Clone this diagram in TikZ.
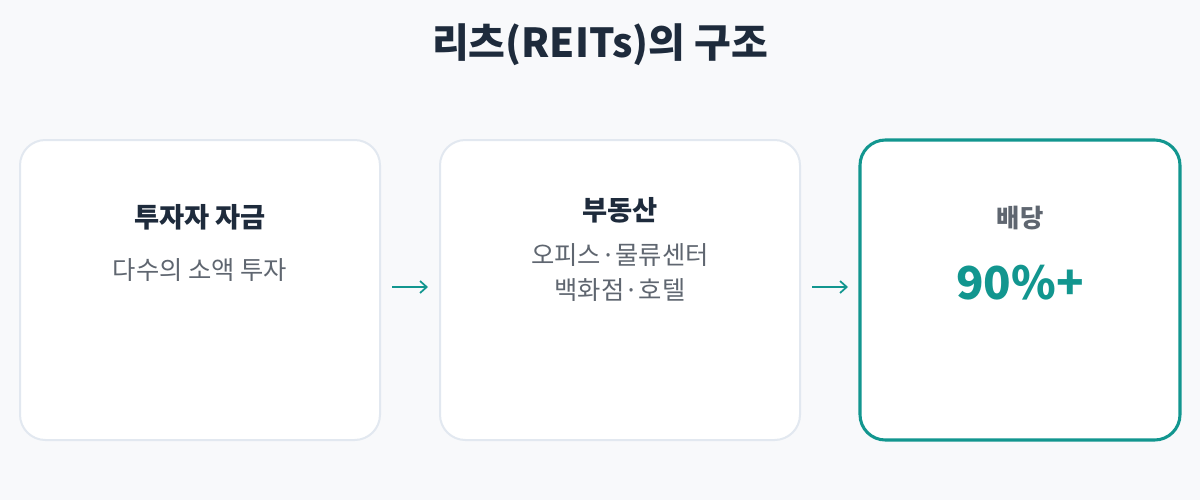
\documentclass[tikz,border=0pt]{standalone}
\usepackage{fontspec}
\setmainfont{Noto Sans CJK KR}
\usetikzlibrary{arrows.meta}
\definecolor{navy}{HTML}{1E2B3C}
\definecolor{teal}{HTML}{12968F}
\definecolor{edge}{HTML}{E2E8F0}
\definecolor{subgray}{HTML}{5F6670}
\definecolor{bg}{HTML}{F8F9FB}

\begin{document}
\begin{tikzpicture}[x=0.75pt,y=-0.75pt,
  every node/.append style={inner sep=0pt},
  box/.style={draw=edge,line width=1.5pt,fill=white,rounded corners=19pt},
  hot/.style={draw=teal,line width=2.3pt,fill=white,rounded corners=19pt},
  head/.style={font=\bfseries\fontsize{20.5}{24}\selectfont,color=navy},
  sub/.style={font=\fontsize{19}{23}\selectfont,color=subgray},
  link/.style={-{Straight Barb[length=5pt,width=9pt]},teal,line width=1.3pt}]
  \fill[bg] (0,0) rectangle (1200,500);
  \node (title) [font=\bfseries\fontsize{30}{34}\selectfont,color=navy] at (600,45) {리츠(REITs)의 구조};
  % boxes
  \draw[box] (20,140) rectangle (380,440);
  \draw[box] (440,140) rectangle (800,440);
  \draw[hot] (860,140) rectangle (1180,440);
  % texts
  \node (fund) [head] at (200,217) {투자자 자금};
  \node (fundsub) [sub] at (200,270) {다수의 소액 투자};
  \node (estate) [head] at (620,210) {부동산};
  \node (estate1) [sub] at (620,255) {오피스·물류센터};
  \node (estate2) [sub] at (620,290) {백화점·호텔};
  \node (div) [font=\bfseries\fontsize{19}{23}\selectfont,color=subgray] at (1020,218) {배당};
  \node (rate) [font=\bfseries\fontsize{34}{40}\selectfont,color=teal] at (1020,283) {90\%+};
  % arrows
  \coordinate (a1) at (392,287);
  \coordinate (b1) at (428,287);
  \coordinate (a2) at (812,287);
  \coordinate (b2) at (848,287);
  \draw[link] (a1) -- (b1);
  \draw[link] (a2) -- (b2);
\end{tikzpicture}
\end{document}
